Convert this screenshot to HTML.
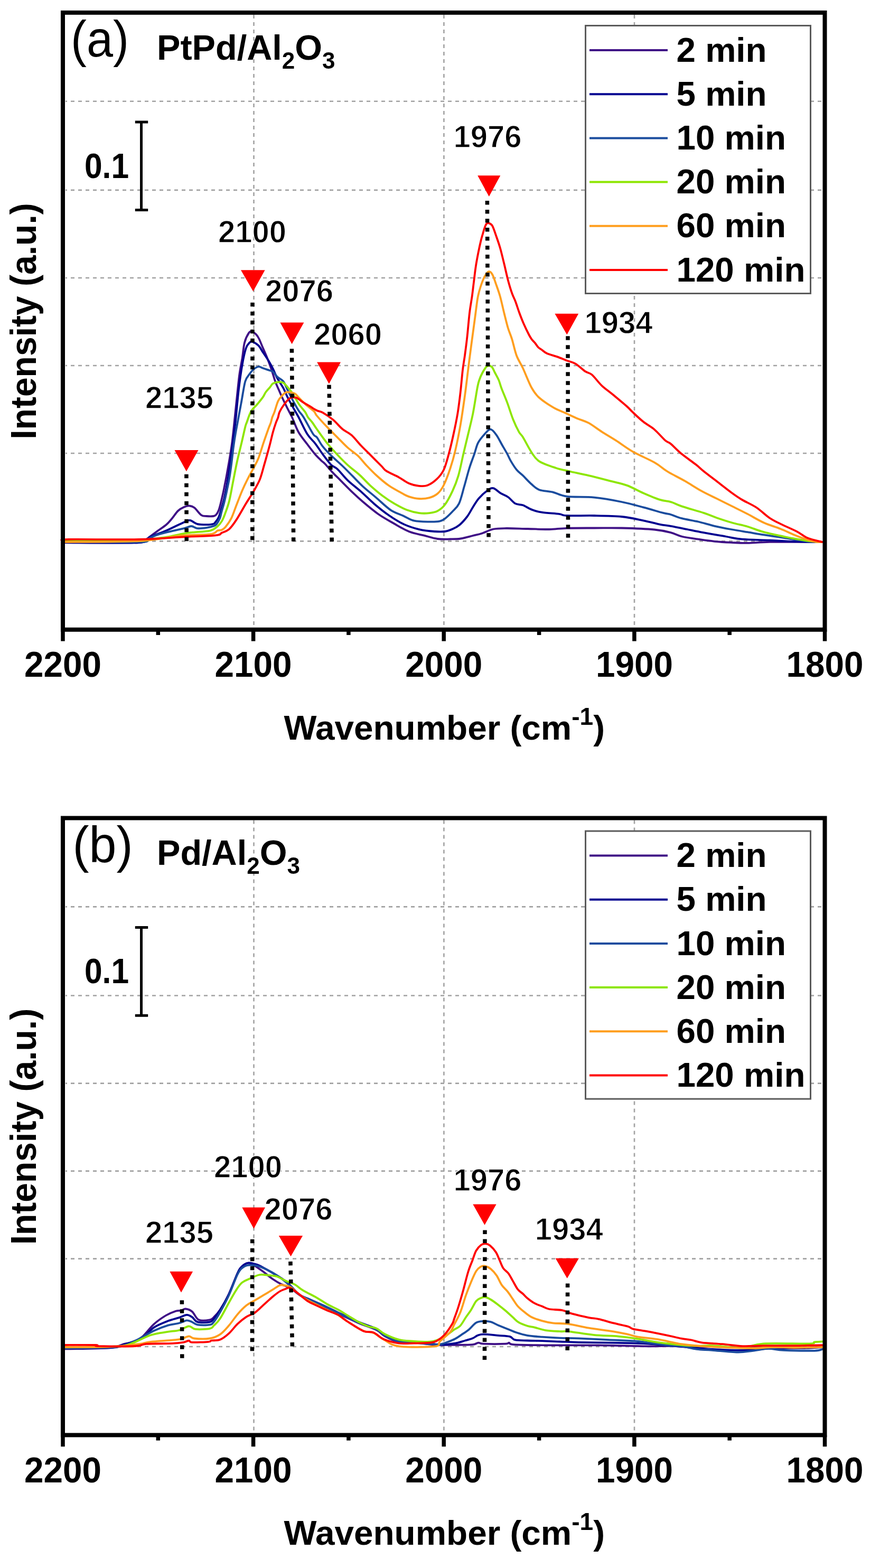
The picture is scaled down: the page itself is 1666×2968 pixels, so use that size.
<!DOCTYPE html><html><head><meta charset="utf-8"><title>Figure</title><style>
html,body{margin:0;padding:0;background:#fff;}
svg{display:block;}
text{font-family:'Liberation Sans', Arial, sans-serif;fill:#000;}
.grid{stroke:#a2a2a2;stroke-width:2.6;stroke-dasharray:7 7;}
.pk{font-size:60px;font-weight:bold;stroke:#fff;stroke-width:1.3px;}
.b66{font-size:66px;font-weight:bold;}
.leg{font-size:65.5px;font-weight:bold;}
.tick{font-size:68px;font-weight:bold;}
.ax{font-size:65.5px;font-weight:bold;}
.ay{font-size:68px;font-weight:bold;}
.pl{font-size:96px;}
.ttl{font-size:66.6px;font-weight:bold;}
</style></head><body>
<svg width="1666" height="2968" viewBox="0 0 1666 2968">
<rect width="1666" height="2968" fill="#fff"/>
<g transform="translate(0,0.0)">
<line x1="124" y1="191.8" x2="1557" y2="191.8" class="grid" stroke-dashoffset="-10"/>
<line x1="124" y1="359.9" x2="1557" y2="359.9" class="grid" stroke-dashoffset="-10"/>
<line x1="124" y1="526.0" x2="1557" y2="526.0" class="grid" stroke-dashoffset="-10"/>
<line x1="124" y1="692.0" x2="1557" y2="692.0" class="grid" stroke-dashoffset="-10"/>
<line x1="124" y1="858.0" x2="1557" y2="858.0" class="grid" stroke-dashoffset="-10"/>
<line x1="124" y1="1024.4" x2="1557" y2="1024.4" class="grid" stroke-dashoffset="-10"/>
<line x1="480.5" y1="28" x2="480.5" y2="1187" class="grid"/>
<line x1="840.4" y1="28" x2="840.4" y2="1187" class="grid"/>
<line x1="1201.0" y1="28" x2="1201.0" y2="1187" class="grid"/>
<path d="M119.0,1027.0C132.5,1027.1 176.0,1027.5 200.0,1027.5C224.0,1027.5 251.0,1027.6 263.0,1027.0C275.0,1026.4 269.0,1025.5 272.0,1024.0C275.0,1022.5 276.8,1021.0 281.0,1018.0C285.2,1015.0 291.3,1010.2 297.0,1006.0C302.7,1001.8 310.2,997.2 315.0,993.0C319.8,988.8 322.3,985.3 326.0,981.0C329.7,976.7 333.3,970.5 337.0,967.0C340.7,963.5 344.3,961.6 348.0,960.0C351.7,958.4 355.7,957.3 359.0,957.5C362.3,957.7 364.3,958.1 368.0,961.0C371.7,963.9 377.2,972.3 381.0,975.0C384.8,977.7 387.2,976.7 391.0,977.0C394.8,977.3 401.0,977.4 404.0,977.0C407.0,976.6 407.3,976.3 409.0,974.5C410.7,972.7 412.5,969.8 414.0,966.0C415.5,962.2 416.7,957.2 418.0,952.0C419.3,946.8 420.6,941.3 422.0,935.0C423.4,928.7 425.1,919.8 426.3,914.0C427.5,908.2 427.7,907.0 429.0,900.0C430.3,893.0 432.3,882.0 434.0,872.0C435.7,862.0 437.5,851.2 439.0,840.0C440.5,828.8 441.6,818.3 443.0,805.0C444.4,791.7 446.0,775.7 447.7,760.0C449.4,744.3 451.2,724.8 453.0,711.0C454.8,697.2 457.0,687.9 458.7,677.5C460.4,667.1 460.9,656.2 463.0,648.4C465.1,640.5 468.7,633.8 471.0,630.4C473.3,627.0 474.4,627.2 476.7,627.7C479.0,628.2 482.7,630.9 485.0,633.2C487.3,635.5 488.4,637.4 490.5,641.5C492.6,645.6 494.9,652.1 497.5,658.1C500.1,664.1 503.1,670.6 505.8,677.5C508.6,684.4 511.5,692.2 514.0,699.6C516.5,707.0 518.7,715.2 521.0,721.7C523.3,728.2 525.5,732.5 528.0,738.3C530.5,744.1 532.8,749.6 536.0,756.3C539.2,763.0 544.2,772.8 547.0,778.4C549.8,784.0 550.0,783.5 553.0,790.0C556.0,796.5 560.2,809.2 565.0,817.7C569.8,826.2 576.8,834.3 582.0,841.2C587.2,848.1 591.7,854.1 596.0,859.2C600.3,864.3 604.8,868.4 608.0,871.6C611.2,874.8 612.0,874.5 615.5,878.2C619.0,881.9 624.2,888.5 629.0,893.6C633.8,898.8 638.0,902.6 644.5,909.1C651.0,915.6 660.7,925.6 667.8,932.4C674.9,939.2 679.0,943.0 687.0,949.8C695.0,956.6 706.3,966.2 716.0,973.0C725.7,979.8 735.3,985.0 745.0,990.5C754.7,996.0 764.3,1002.1 774.0,1006.0C783.7,1009.9 793.9,1011.4 803.0,1013.7C812.1,1016.0 820.3,1018.9 828.5,1020.0C836.7,1021.1 844.8,1020.6 852.0,1020.5C859.2,1020.4 864.8,1020.6 872.0,1019.5C879.2,1018.4 888.3,1015.6 895.0,1014.0C901.7,1012.4 905.5,1011.9 912.0,1009.8C918.5,1007.7 926.2,1003.1 934.0,1001.5C941.8,999.9 948.2,1000.1 959.0,1000.0C969.8,999.9 985.5,1000.7 999.0,1001.0C1012.5,1001.3 1027.7,1002.2 1040.0,1002.0C1052.3,1001.8 1058.8,1000.2 1073.0,999.8C1087.2,999.4 1107.7,999.5 1125.0,999.5C1142.3,999.5 1158.0,999.0 1177.0,999.5C1196.0,1000.0 1223.5,1001.0 1239.0,1002.5C1254.5,1004.0 1261.4,1006.0 1270.0,1008.2C1278.6,1010.4 1282.0,1013.4 1290.7,1015.5C1299.4,1017.6 1311.6,1019.2 1322.0,1020.7C1332.4,1022.2 1342.7,1023.8 1353.0,1024.8C1363.3,1025.8 1373.7,1026.4 1384.0,1026.9C1394.3,1027.4 1402.8,1028.1 1415.0,1027.9C1427.2,1027.7 1438.0,1026.2 1457.0,1025.9C1476.0,1025.6 1512.5,1025.9 1529.0,1025.9C1545.5,1025.9 1551.5,1026.0 1556.0,1026.0" fill="none" stroke="#3F0F86" stroke-width="3.8" stroke-linejoin="round" stroke-linecap="round"/>
<path d="M119.0,1027.0C143.0,1027.0 235.6,1028.7 263.0,1027.0C290.4,1025.3 274.8,1020.5 283.5,1016.7C292.2,1012.9 304.2,1009.0 315.0,1004.3C325.8,999.6 341.1,991.6 348.5,988.4C355.9,985.2 355.5,984.3 359.6,984.9C363.8,985.5 368.1,990.4 373.4,991.8C378.7,993.2 386.3,993.2 391.4,993.2C396.5,993.2 401.0,992.7 403.8,991.8C406.6,990.9 406.3,990.1 408.0,988.0C409.7,985.9 412.1,983.3 414.0,979.0C415.9,974.7 417.7,967.7 419.4,962.0C421.1,956.3 422.6,951.8 424.2,945.0C425.8,938.2 427.6,928.5 429.0,921.0C430.4,913.5 431.3,907.7 432.5,900.0C433.7,892.3 434.8,884.2 436.0,875.0C437.2,865.8 438.4,857.5 440.0,845.0C441.6,832.5 443.6,817.8 445.6,800.0C447.6,782.2 449.6,756.6 451.8,738.3C454.0,719.9 456.4,703.0 458.7,689.9C461.0,676.8 463.3,666.4 465.6,659.5C467.9,652.6 470.5,650.5 472.6,648.4C474.7,646.3 475.3,646.1 478.1,647.0C480.9,647.9 486.0,650.7 489.2,653.9C492.4,657.1 494.3,661.5 497.5,666.4C500.7,671.2 505.3,677.7 508.5,683.0C511.7,688.3 514.0,692.7 516.8,698.2C519.6,703.7 521.9,710.2 525.1,716.2C528.3,722.2 533.0,728.2 536.2,734.2C539.4,740.2 541.5,746.1 544.5,752.1C547.5,758.1 550.8,763.9 554.2,770.1C557.7,776.3 560.6,780.9 565.2,789.5C569.8,798.1 576.5,813.4 581.8,821.8C587.1,830.2 592.0,833.3 597.0,839.8C602.0,846.3 606.6,854.0 611.6,860.7C616.6,867.4 622.6,875.6 627.1,880.1C631.6,884.6 633.5,883.0 638.7,887.8C643.9,892.6 650.7,902.0 658.1,909.1C665.5,916.2 674.9,923.0 683.3,930.4C691.7,937.8 699.7,946.3 708.4,953.7C717.1,961.1 726.2,968.5 735.6,975.0C745.0,981.5 754.9,987.9 764.6,992.4C774.3,996.9 783.9,999.8 793.6,1002.1C803.3,1004.4 814.6,1005.4 822.7,1006.0C830.8,1006.6 836.3,1006.8 842.1,1006.0C847.9,1005.2 852.8,1003.1 857.5,1001.0C862.2,998.9 865.9,997.0 870.4,993.2C874.9,989.4 880.1,983.5 884.3,978.0C888.4,972.5 891.6,965.8 895.3,960.0C899.0,954.2 901.8,948.7 906.4,943.4C911.0,938.1 918.4,931.4 923.0,928.2C927.6,925.0 929.9,923.2 934.0,924.1C938.1,925.0 943.3,930.9 947.9,933.7C952.5,936.5 957.1,937.5 961.7,940.7C966.3,943.9 970.8,950.5 975.5,953.1C980.2,955.7 984.8,954.4 990.0,956.3C995.2,958.2 1000.7,962.4 1006.6,964.6C1012.5,966.8 1016.6,968.3 1025.3,969.7C1034.0,971.1 1050.5,971.9 1058.5,972.9C1066.5,973.9 1061.9,975.5 1073.0,976.0C1084.1,976.5 1107.7,975.7 1125.0,976.0C1142.3,976.3 1161.5,976.5 1177.0,978.0C1192.5,979.5 1206.0,982.9 1218.0,985.3C1230.0,987.7 1240.3,990.9 1249.0,992.6C1257.7,994.4 1261.3,994.2 1270.0,995.8C1278.7,997.4 1290.7,999.9 1301.0,1002.0C1311.3,1004.1 1319.8,1006.0 1332.0,1008.2C1344.2,1010.5 1361.8,1013.4 1374.0,1015.5C1386.2,1017.6 1391.2,1019.5 1405.0,1020.7C1418.8,1021.9 1441.5,1022.0 1457.0,1022.7C1472.5,1023.4 1486.0,1024.3 1498.0,1024.8C1510.0,1025.3 1519.3,1025.7 1529.0,1025.9C1538.7,1026.1 1551.5,1026.0 1556.0,1026.0" fill="none" stroke="#000090" stroke-width="3.8" stroke-linejoin="round" stroke-linecap="round"/>
<path d="M119.0,1026.0C143.0,1026.0 236.2,1027.0 263.0,1026.0C289.8,1025.0 273.6,1022.5 280.0,1020.0C286.4,1017.5 290.1,1014.5 301.5,1011.2C312.9,1007.9 338.4,1002.6 348.5,1000.1C358.6,997.6 358.2,996.0 362.4,996.0C366.5,996.0 368.6,999.6 373.4,1000.1C378.2,1000.6 386.1,999.6 391.4,998.8C396.7,998.0 402.1,996.6 405.2,995.5C408.3,994.4 408.1,994.4 410.0,992.0C411.9,989.6 414.7,984.8 416.3,981.0C417.9,977.2 418.1,973.8 419.4,969.0C420.7,964.2 422.6,958.3 424.2,952.0C425.8,945.7 427.4,938.5 429.0,931.0C430.6,923.5 432.5,915.0 433.9,907.0C435.3,899.0 436.1,893.3 437.5,883.0C438.9,872.7 440.7,855.8 442.1,845.3C443.5,834.8 444.7,827.5 446.0,820.0C447.3,812.5 447.8,810.1 449.7,800.0C451.6,789.9 454.9,772.1 457.3,759.1C459.7,746.1 461.8,730.2 464.3,721.7C466.9,713.2 470.1,711.6 472.6,707.9C475.1,704.2 476.7,701.9 479.5,699.6C482.3,697.3 486.2,694.5 489.2,694.0C492.2,693.5 494.1,695.6 497.5,696.8C500.9,698.0 506.7,699.9 509.9,701.0C513.1,702.1 514.3,701.6 516.8,703.7C519.3,705.8 521.9,710.4 525.1,713.4C528.3,716.4 533.0,717.6 536.2,721.7C539.4,725.9 541.7,732.8 544.5,738.3C547.3,743.8 549.3,748.4 552.8,754.9C556.2,761.4 561.5,771.1 565.2,777.0C568.9,782.9 570.3,782.5 574.9,790.0C579.5,797.5 588.7,815.5 592.9,821.8C597.1,828.1 597.2,824.2 600.0,827.8C602.8,831.4 605.5,837.8 609.7,843.3C613.9,848.8 618.8,854.2 625.2,860.7C631.7,867.2 641.3,875.2 648.4,882.0C655.5,888.8 661.3,894.9 667.8,901.4C674.2,907.9 679.7,914.0 687.1,920.8C694.5,927.6 703.6,934.7 712.3,942.1C721.0,949.5 730.7,959.5 739.4,965.3C748.1,971.1 757.2,973.5 764.6,976.9C772.0,980.3 775.9,983.8 784.0,985.6C792.1,987.4 804.9,987.4 813.0,987.6C821.1,987.8 827.6,987.5 832.4,986.6C837.2,985.7 838.0,985.0 842.0,982.0C846.0,979.0 852.1,973.1 856.6,968.3C861.1,963.5 865.3,960.9 869.0,953.1C872.7,945.3 875.5,932.4 878.7,921.3C881.9,910.2 885.2,897.1 888.4,886.7C891.6,876.3 895.3,867.2 898.1,859.1C900.9,851.0 901.8,844.5 905.0,838.3C908.2,832.1 913.6,826.0 917.5,821.7C921.4,817.4 924.8,812.5 928.5,812.7C932.2,812.9 935.9,818.1 939.6,823.1C943.3,828.1 947.2,836.5 950.7,842.5C954.2,848.5 957.5,854.0 960.3,859.1C963.0,864.2 964.2,867.8 967.2,872.9C970.2,878.0 974.5,885.0 978.3,889.5C982.1,894.0 985.3,895.7 990.0,900.2C994.7,904.8 1001.4,912.3 1006.6,916.8C1011.8,921.3 1014.5,924.8 1021.1,927.2C1027.7,929.6 1037.3,929.3 1046.0,931.4C1054.7,933.5 1059.8,938.0 1073.0,939.7C1086.2,941.4 1107.6,940.0 1124.9,941.7C1142.2,943.4 1161.2,946.9 1176.7,950.0C1192.2,953.1 1205.1,956.9 1218.2,960.4C1231.3,963.9 1247.0,968.6 1255.6,970.9C1264.2,973.2 1264.2,972.3 1270.0,974.0C1275.8,975.7 1282.0,979.0 1290.7,981.2C1299.4,983.5 1311.5,985.1 1321.9,987.5C1332.3,989.9 1342.6,993.4 1353.0,995.8C1363.4,998.2 1373.7,1000.1 1384.1,1002.0C1394.5,1003.9 1404.8,1005.5 1415.2,1007.2C1425.6,1008.9 1434.2,1010.5 1446.3,1012.4C1458.4,1014.3 1474.0,1016.5 1487.8,1018.6C1501.6,1020.7 1517.9,1023.6 1529.3,1024.8C1540.7,1026.0 1551.5,1025.8 1556.0,1026.0" fill="none" stroke="#1A4C9E" stroke-width="3.8" stroke-linejoin="round" stroke-linecap="round"/>
<path d="M119.0,1024.0C143.0,1024.0 234.5,1024.7 263.0,1024.0C291.5,1023.3 281.3,1021.2 290.0,1020.0C298.7,1018.8 305.6,1018.4 315.3,1016.7C325.1,1015.0 340.2,1011.3 348.5,1009.8C356.8,1008.3 356.8,1008.6 365.1,1007.7C373.4,1006.8 390.5,1006.2 398.3,1004.3C406.1,1002.3 408.5,999.0 412.1,996.0C415.7,993.0 417.8,990.1 420.0,986.4C422.2,982.7 423.2,980.2 425.5,974.0C427.8,967.8 431.3,958.9 433.8,949.0C436.3,939.1 438.2,927.2 440.7,914.5C443.2,901.8 446.2,885.7 449.0,873.0C451.8,860.3 454.8,849.2 457.3,838.4C459.9,827.6 462.7,814.4 464.3,808.0C465.9,801.6 465.2,804.9 467.0,800.0C468.8,795.1 472.1,784.1 475.3,778.4C478.5,772.7 482.7,770.4 486.4,766.0C490.1,761.6 494.7,756.0 497.5,752.1C500.3,748.2 500.7,745.7 503.0,742.5C505.3,739.3 509.0,735.6 511.3,732.8C513.6,730.0 514.0,727.5 516.8,725.9C519.6,724.3 524.7,723.3 527.9,723.1C531.1,722.9 533.4,722.9 536.2,724.5C539.0,726.1 542.0,730.0 544.5,732.8C547.0,735.6 549.1,737.9 551.4,741.1C553.7,744.3 555.8,748.0 558.3,752.1C560.8,756.2 563.4,761.4 566.6,766.0C569.8,770.6 574.9,775.8 577.7,779.8C580.5,783.8 580.9,786.6 583.2,790.0C585.5,793.4 588.7,796.2 591.5,800.0C594.3,803.8 595.4,806.0 600.0,812.5C604.6,819.0 612.9,831.0 619.4,839.0C625.9,847.0 632.2,853.9 638.7,860.7C645.2,867.6 651.0,873.6 658.1,880.1C665.2,886.6 674.2,893.0 681.3,899.5C688.4,906.0 693.6,912.3 700.7,918.8C707.8,925.2 716.1,932.4 723.9,938.2C731.6,944.0 739.5,949.2 747.2,953.7C755.0,958.2 762.7,962.4 770.4,965.3C778.1,968.2 786.5,970.1 793.6,971.1C800.7,972.1 807.2,971.8 813.0,971.1C818.8,970.5 823.7,969.8 828.5,967.2C833.3,964.6 837.3,962.0 842.0,955.7C846.7,949.4 852.3,938.8 856.6,929.6C860.9,920.4 864.2,912.4 867.7,900.6C871.2,888.9 874.3,871.8 877.3,859.1C880.3,846.4 882.6,837.2 885.6,824.5C888.6,811.8 892.3,798.0 895.3,783.0C898.3,768.0 901.6,745.1 903.6,734.6C905.6,724.1 905.6,724.8 907.2,719.9C908.8,715.0 910.9,710.0 913.4,705.5C915.9,701.0 919.2,695.0 922.1,693.1C925.0,691.2 928.3,692.2 930.8,694.3C933.3,696.4 934.7,701.2 937.0,705.5C939.3,709.8 942.4,715.0 944.4,719.9C946.4,724.8 946.6,727.5 949.3,734.6C951.9,741.7 956.6,752.3 960.3,762.2C964.0,772.1 967.7,784.8 971.4,794.0C975.1,803.2 979.4,812.0 982.5,817.6C985.6,823.2 986.0,821.1 990.0,827.6C994.0,834.1 1001.4,849.1 1006.6,856.7C1011.8,864.3 1013.5,868.5 1021.1,873.3C1028.7,878.1 1042.9,882.6 1052.2,885.7C1061.5,888.8 1066.7,889.6 1077.1,892.0C1087.5,894.4 1101.3,897.1 1114.5,900.2C1127.7,903.3 1143.9,907.5 1156.0,910.6C1168.1,913.7 1176.7,915.1 1187.1,918.9C1197.5,922.7 1207.8,928.9 1218.2,933.4C1228.6,937.9 1240.7,943.1 1249.3,945.9C1257.9,948.7 1263.1,948.0 1270.0,950.1C1276.9,952.2 1280.3,954.9 1290.7,958.4C1301.1,961.9 1321.1,967.3 1332.2,970.9C1343.3,974.5 1348.1,977.1 1357.1,980.2C1366.1,983.3 1376.5,986.7 1386.2,989.5C1395.9,992.3 1405.2,993.8 1415.2,996.8C1425.2,999.8 1434.2,1003.9 1446.3,1007.2C1458.4,1010.5 1474.0,1013.7 1487.8,1016.5C1501.6,1019.3 1517.9,1022.2 1529.3,1023.8C1540.7,1025.4 1551.5,1025.6 1556.0,1026.0" fill="none" stroke="#8DE600" stroke-width="3.8" stroke-linejoin="round" stroke-linecap="round"/>
<path d="M119.0,1026.0C143.0,1025.7 225.7,1026.0 263.0,1024.0C300.3,1022.0 320.4,1016.1 343.0,1014.0C365.6,1011.9 386.8,1012.8 398.3,1011.2C409.8,1009.6 408.5,1005.7 412.1,1004.3C415.7,1002.9 417.5,1004.1 420.0,1003.0C422.5,1001.9 423.9,1001.2 426.9,997.5C429.9,993.8 434.5,987.8 438.0,980.9C441.5,974.0 444.2,964.8 447.7,956.0C451.1,947.2 455.2,936.4 458.7,928.3C462.1,920.2 464.9,914.5 468.4,907.6C471.9,900.7 476.0,893.5 479.5,886.8C483.0,880.1 486.0,875.6 489.2,867.5C492.4,859.4 495.6,847.9 498.8,838.4C502.0,828.9 506.2,817.1 508.5,810.7C510.8,804.3 511.6,803.5 512.7,800.0C513.9,796.5 514.2,793.4 515.4,790.0C516.5,786.6 517.8,784.9 519.6,779.8C521.5,774.6 524.0,764.4 526.5,759.1C529.0,753.8 532.3,750.8 534.8,748.0C537.3,745.2 539.4,743.4 541.7,742.5C544.0,741.6 545.8,742.0 548.6,742.5C551.4,743.0 555.5,743.6 558.3,745.2C561.1,746.8 561.7,748.6 565.2,752.1C568.7,755.6 574.2,761.6 579.1,766.0C584.0,770.4 590.8,774.9 594.3,778.4C597.8,781.9 595.8,782.1 600.0,787.1C604.2,792.1 612.9,801.6 619.4,808.4C625.9,815.2 632.2,821.3 638.7,827.8C645.2,834.3 651.6,841.4 658.1,847.2C664.6,853.0 671.7,857.2 677.5,862.7C683.3,868.2 687.2,874.0 693.0,880.1C698.8,886.2 705.2,893.0 712.3,899.5C719.4,906.0 727.9,913.3 735.6,918.8C743.4,924.3 752.3,928.8 758.8,932.4C765.2,936.0 768.5,938.2 774.3,940.1C780.1,942.0 787.1,943.7 793.6,944.0C800.1,944.3 807.2,943.7 813.0,942.1C818.8,940.5 824.0,938.2 828.5,934.3C833.0,930.4 836.0,926.4 840.0,918.5C844.0,910.6 848.7,897.8 852.4,886.7C856.1,875.6 858.9,865.9 862.1,852.1C865.3,838.3 868.8,821.0 871.8,803.7C874.8,786.4 877.7,765.7 880.1,748.4C882.5,731.1 884.6,712.4 886.2,700.0C887.8,687.6 888.2,683.8 889.5,674.0C890.8,664.2 892.3,652.3 893.8,641.5C895.2,630.7 896.8,619.9 898.2,609.0C899.7,598.1 901.4,584.5 902.5,576.3C903.6,568.1 903.9,565.5 905.1,560.0C906.3,554.5 907.7,549.0 909.7,543.0C911.7,537.0 914.6,529.0 917.1,524.2C919.6,519.4 922.1,515.0 924.6,514.2C927.1,513.4 929.5,515.1 932.0,519.2C934.5,523.4 937.0,532.1 939.5,539.1C942.0,546.1 944.4,552.5 946.9,561.4C949.4,570.3 951.9,582.6 954.4,592.5C956.9,602.4 959.3,612.7 961.8,621.0C964.3,629.3 966.6,633.4 969.3,642.1C972.0,650.8 974.5,664.1 978.0,673.2C981.5,682.4 985.2,686.8 990.0,697.0C994.8,707.2 1001.4,725.0 1006.6,734.3C1011.8,743.6 1014.2,746.8 1021.1,753.0C1028.0,759.2 1039.8,766.8 1048.1,771.6C1056.4,776.4 1063.3,778.5 1070.9,782.0C1078.5,785.5 1086.4,789.3 1093.7,792.4C1101.0,795.5 1106.9,796.6 1114.5,800.7C1122.1,804.9 1130.8,811.8 1139.4,817.3C1148.0,822.8 1156.6,827.7 1166.3,833.9C1176.0,840.1 1185.4,847.7 1197.5,854.6C1209.6,861.5 1228.6,869.5 1239.0,875.4C1249.4,881.3 1254.5,886.4 1259.7,889.9C1264.9,893.4 1263.8,892.7 1270.0,896.2C1276.2,899.7 1287.3,905.2 1297.0,910.7C1306.7,916.2 1318.1,923.9 1328.1,929.4C1338.1,934.9 1347.4,939.1 1357.1,943.9C1366.8,948.7 1376.5,953.6 1386.2,958.4C1395.9,963.2 1405.2,967.7 1415.2,972.9C1425.2,978.1 1435.9,984.8 1446.3,989.5C1456.7,994.2 1467.1,996.9 1477.5,1001.0C1487.9,1005.1 1498.2,1010.4 1508.6,1014.4C1519.0,1018.4 1531.8,1022.9 1539.7,1024.8C1547.6,1026.7 1553.3,1025.8 1556.0,1026.0" fill="none" stroke="#FF9E1E" stroke-width="3.8" stroke-linejoin="round" stroke-linecap="round"/>
<path d="M119.0,1023.5C120.8,1023.1 106.0,1021.4 130.0,1021.0C154.0,1020.6 227.5,1021.7 263.0,1021.0C298.5,1020.3 318.8,1018.0 343.0,1016.7C367.2,1015.4 395.2,1014.7 408.0,1013.3C420.8,1011.9 415.7,1010.5 420.0,1008.5C424.3,1006.5 429.2,1005.8 433.8,1001.6C438.4,997.5 442.4,991.7 447.7,983.6C453.0,975.5 460.3,962.0 465.6,953.2C470.9,944.5 475.1,938.7 479.5,931.1C483.9,923.5 488.4,916.1 491.9,907.6C495.3,899.1 497.2,890.3 500.2,879.9C503.2,869.5 507.1,855.7 509.9,845.3C512.7,834.9 514.7,825.2 516.8,817.7C518.9,810.2 520.8,804.6 522.4,800.0C524.0,795.4 525.4,793.4 526.5,790.0C527.6,786.6 527.4,783.8 529.3,779.8C531.1,775.8 534.6,770.1 537.6,766.0C540.6,761.9 544.7,757.2 547.2,754.9C549.7,752.6 550.2,752.3 552.8,752.1C555.3,751.9 559.3,752.1 562.5,753.5C565.7,754.9 568.2,757.9 572.1,760.4C576.0,762.9 581.4,765.9 586.0,768.7C590.6,771.5 595.5,774.9 599.8,777.0C604.1,779.1 606.4,778.3 611.6,781.3C616.8,784.3 624.9,789.7 631.0,794.9C637.1,800.1 642.6,807.5 648.4,812.3C654.2,817.1 660.0,818.7 665.8,823.9C671.6,829.1 677.5,837.2 683.3,843.3C689.1,849.4 694.2,854.2 700.7,860.7C707.2,867.2 716.8,876.8 722.0,882.0C727.2,887.2 726.2,888.2 731.7,891.7C737.2,895.2 747.8,899.4 754.9,903.3C762.0,907.2 767.8,912.2 774.3,915.0C780.8,917.8 787.8,919.2 793.6,919.8C799.4,920.4 803.6,920.9 809.1,918.8C814.6,916.7 821.5,912.1 826.6,907.2C831.8,902.3 836.1,897.5 840.0,889.5C843.9,881.5 846.7,869.9 849.7,859.1C852.7,848.3 855.2,837.2 858.0,824.5C860.8,811.8 864.0,796.8 866.3,783.0C868.6,769.2 870.2,755.3 871.8,741.5C873.4,727.7 874.6,711.7 876.0,700.0C877.4,688.3 878.8,682.0 880.2,671.4C881.6,660.8 883.2,649.2 884.6,636.1C886.0,623.0 887.4,605.3 888.9,592.6C890.4,579.9 892.4,569.8 893.8,560.0C895.1,550.2 895.8,543.3 897.0,534.0C898.2,524.7 899.3,513.7 900.8,504.2C902.2,494.7 904.1,485.2 905.7,477.1C907.3,469.0 909.1,461.2 910.5,455.3C911.9,449.4 913.1,445.8 914.3,441.7C915.5,437.6 916.5,433.9 917.6,430.9C918.7,427.9 919.7,425.2 920.9,423.8C922.1,422.4 922.8,421.6 924.6,422.2C926.5,422.8 929.5,423.1 932.0,427.3C934.5,431.5 937.0,440.2 939.5,447.2C942.0,454.2 944.4,460.8 946.9,469.5C949.4,478.2 951.9,489.2 954.4,499.3C956.9,509.4 959.3,521.1 961.8,530.4C964.3,539.7 967.0,548.6 969.3,555.2C971.6,561.8 973.3,564.0 975.6,570.0C977.9,576.0 980.4,584.4 983.0,591.5C985.6,598.6 988.2,605.4 991.3,612.5C994.4,619.6 999.0,629.0 1001.6,634.0C1004.2,639.0 1004.9,639.8 1006.7,642.3C1008.6,644.8 1010.6,646.5 1012.7,649.0C1014.8,651.5 1017.0,655.3 1019.1,657.5C1021.2,659.7 1022.8,660.1 1025.5,662.0C1028.2,663.9 1030.8,666.8 1035.6,669.0C1040.4,671.2 1048.1,672.9 1054.3,675.1C1060.5,677.3 1067.1,680.1 1073.0,682.4C1078.9,684.6 1083.7,685.1 1089.6,688.6C1095.5,692.1 1103.1,699.7 1108.3,703.2C1113.5,706.7 1115.5,704.9 1120.7,709.4C1125.9,713.9 1132.8,723.9 1139.4,730.1C1146.0,736.3 1152.1,740.1 1160.1,746.7C1168.0,753.3 1180.9,764.0 1187.1,769.5C1193.3,775.0 1192.3,775.0 1197.5,779.9C1202.7,784.8 1211.3,793.1 1218.2,798.6C1225.1,804.1 1232.1,807.2 1239.0,813.1C1245.9,819.0 1254.5,829.4 1259.7,833.9C1264.9,838.4 1265.2,836.2 1270.0,840.2C1274.8,844.2 1280.8,851.2 1288.7,857.8C1296.7,864.4 1310.5,873.9 1317.7,879.6C1325.0,885.3 1325.3,886.5 1332.2,892.0C1339.1,897.5 1350.2,905.9 1359.2,912.8C1368.2,919.7 1378.6,928.0 1386.2,933.5C1393.8,939.0 1397.3,941.5 1404.9,946.0C1412.5,950.5 1423.2,954.8 1431.8,960.5C1440.4,966.2 1449.1,975.0 1456.7,980.2C1464.3,985.4 1468.8,987.3 1477.5,991.6C1486.2,995.9 1500.0,1001.6 1508.6,1006.1C1517.2,1010.6 1521.3,1015.3 1529.3,1018.6C1537.2,1021.9 1551.8,1024.7 1556.3,1025.9" fill="none" stroke="#FF0000" stroke-width="3.8" stroke-linejoin="round" stroke-linecap="round"/>
<line x1="352.9" y1="897.8" x2="353.2" y2="1025.3" stroke="#000" stroke-width="7.5" stroke-dasharray="7.5 9.5"/>
<polygon points="330.5,852.1 375.5,852.1 352.9,892.3" fill="#FF0000"/>
<line x1="478.0" y1="572.8" x2="477.8" y2="1027.5" stroke="#000" stroke-width="7.5" stroke-dasharray="7.5 9.5"/>
<polygon points="456.0,511.2 501.6,511.2 479.3,551.5" fill="#FF0000"/>
<line x1="552.4" y1="660.3" x2="555.7" y2="1029.7" stroke="#000" stroke-width="7.5" stroke-dasharray="7.5 9.5"/>
<polygon points="530.5,610.4 575.4,610.4 552.6,651.2" fill="#FF0000"/>
<line x1="623.0" y1="728.5" x2="628.3" y2="1029.7" stroke="#000" stroke-width="7.5" stroke-dasharray="7.5 9.5"/>
<polygon points="600.1,685.6 645.0,685.6 622.9,726.4" fill="#FF0000"/>
<line x1="922.4" y1="379.9" x2="925.1" y2="1022.2" stroke="#000" stroke-width="7.5" stroke-dasharray="7.5 9.5"/>
<polygon points="904.2,332.3 947.3,332.3 925.8,372.1" fill="#FF0000"/>
<line x1="1075.0" y1="636.3" x2="1075.5" y2="1021.4" stroke="#000" stroke-width="7.5" stroke-dasharray="7.5 9.5"/>
<polygon points="1050.4,593.7 1095.2,593.7 1073.3,633.5" fill="#FF0000"/>
<text x="275.0" y="773.3" class="pk" textLength="129.0" lengthAdjust="spacingAndGlyphs">2135</text>
<text x="413.0" y="458.8" class="pk" textLength="129.0" lengthAdjust="spacingAndGlyphs">2100</text>
<text x="502.0" y="571.3" class="pk" textLength="129.0" lengthAdjust="spacingAndGlyphs">2076</text>
<text x="594.0" y="652.8" class="pk" textLength="129.0" lengthAdjust="spacingAndGlyphs">2060</text>
<text x="858.6" y="279.2" class="pk" textLength="129.0" lengthAdjust="spacingAndGlyphs">1976</text>
<text x="1106.5" y="631.3" class="pk" textLength="129.0" lengthAdjust="spacingAndGlyphs">1934</text>
<path d="M267.5,231 V397.6 M255.8,231 H280.2 M255.8,397.6 H280.2" stroke="#000" stroke-width="5" fill="none"/>
<text x="160" y="336.6" class="b66" textLength="84" lengthAdjust="spacingAndGlyphs">0.1</text>
<rect x="1108.5" y="48.5" width="426" height="507" fill="#fff" stroke="#5a5a5a" stroke-width="3"/>
<line x1="1116" y1="95.0" x2="1264" y2="95.0" stroke="#3F0F86" stroke-width="4"/>
<text x="1280.5" y="116.7" class="leg">2 min</text>
<line x1="1116" y1="178.2" x2="1264" y2="178.2" stroke="#000090" stroke-width="4"/>
<text x="1280.5" y="199.9" class="leg">5 min</text>
<line x1="1116" y1="261.4" x2="1264" y2="261.4" stroke="#1A4C9E" stroke-width="4"/>
<text x="1280.5" y="283.1" class="leg">10 min</text>
<line x1="1116" y1="344.5" x2="1264" y2="344.5" stroke="#8DE600" stroke-width="4"/>
<text x="1280.5" y="366.2" class="leg">20 min</text>
<line x1="1116" y1="427.7" x2="1264" y2="427.7" stroke="#FF9E1E" stroke-width="4"/>
<text x="1280.5" y="449.4" class="leg">60 min</text>
<line x1="1116" y1="510.9" x2="1264" y2="510.9" stroke="#FF0000" stroke-width="4"/>
<text x="1280.5" y="532.6" class="leg">120 min</text>
<rect x="119.0" y="23.9" width="1442.5" height="1167.9" fill="none" stroke="#000" stroke-width="8"/>
<line x1="119.0" y1="1191.8" x2="119.0" y2="1213.6" stroke="#000" stroke-width="7.5"/>
<text x="119.0" y="1281" class="tick" text-anchor="middle" textLength="146.0" lengthAdjust="spacingAndGlyphs">2200</text>
<line x1="479.6" y1="1191.8" x2="479.6" y2="1213.6" stroke="#000" stroke-width="7.5"/>
<text x="479.6" y="1281" class="tick" text-anchor="middle" textLength="146.0" lengthAdjust="spacingAndGlyphs">2100</text>
<line x1="840.2" y1="1191.8" x2="840.2" y2="1213.6" stroke="#000" stroke-width="7.5"/>
<text x="840.2" y="1281" class="tick" text-anchor="middle" textLength="146.0" lengthAdjust="spacingAndGlyphs">2000</text>
<line x1="1200.9" y1="1191.8" x2="1200.9" y2="1213.6" stroke="#000" stroke-width="7.5"/>
<text x="1200.9" y="1281" class="tick" text-anchor="middle" textLength="146.0" lengthAdjust="spacingAndGlyphs">1900</text>
<line x1="1561.5" y1="1191.8" x2="1561.5" y2="1213.6" stroke="#000" stroke-width="7.5"/>
<text x="1561.5" y="1281" class="tick" text-anchor="middle" textLength="146.0" lengthAdjust="spacingAndGlyphs">1800</text>
<line x1="299.3" y1="1191.8" x2="299.3" y2="1202" stroke="#000" stroke-width="7.5"/>
<line x1="659.9" y1="1191.8" x2="659.9" y2="1202" stroke="#000" stroke-width="7.5"/>
<line x1="1020.6" y1="1191.8" x2="1020.6" y2="1202" stroke="#000" stroke-width="7.5"/>
<line x1="1381.2" y1="1191.8" x2="1381.2" y2="1202" stroke="#000" stroke-width="7.5"/>
<text x="537.5" y="1399.7" class="ax" textLength="607.5" lengthAdjust="spacingAndGlyphs">Wavenumber (cm<tspan dy="-28" font-size="46">-1</tspan><tspan dy="28">)</tspan></text>
<text transform="translate(67.8,608) rotate(-90)" class="ay" text-anchor="middle" textLength="447.5" lengthAdjust="spacingAndGlyphs">Intensity (a.u.)</text>
<text x="134.0" y="107" class="pl" textLength="110.0" lengthAdjust="spacingAndGlyphs">(a)</text>
<text y="112.5" class="ttl"><tspan x="297">PtPd/Al</tspan><tspan font-size="44" dy="17">2</tspan><tspan dy="-17">O</tspan><tspan font-size="44" dy="17">3</tspan></text>
</g>
<g transform="translate(0,1524.6)">
<line x1="124" y1="191.8" x2="1557" y2="191.8" class="grid" stroke-dashoffset="-10"/>
<line x1="124" y1="359.9" x2="1557" y2="359.9" class="grid" stroke-dashoffset="-10"/>
<line x1="124" y1="526.0" x2="1557" y2="526.0" class="grid" stroke-dashoffset="-10"/>
<line x1="124" y1="692.0" x2="1557" y2="692.0" class="grid" stroke-dashoffset="-10"/>
<line x1="124" y1="858.0" x2="1557" y2="858.0" class="grid" stroke-dashoffset="-10"/>
<line x1="124" y1="1024.4" x2="1557" y2="1024.4" class="grid" stroke-dashoffset="-10"/>
<line x1="480.5" y1="28" x2="480.5" y2="1187" class="grid"/>
<line x1="840.4" y1="28" x2="840.4" y2="1187" class="grid"/>
<line x1="1201.0" y1="28" x2="1201.0" y2="1187" class="grid"/>
<path d="M119.0,1028.6C123.5,1028.6 130.8,1028.9 146.0,1028.6C161.2,1028.3 195.4,1028.1 210.3,1026.6C225.2,1025.0 227.9,1021.2 235.2,1019.3C242.5,1017.4 248.0,1017.6 253.9,1015.2C259.8,1012.8 264.3,1010.3 270.5,1004.8C276.7,999.3 283.9,988.6 291.2,982.0C298.4,975.4 307.1,969.6 314.0,965.4C320.9,961.3 327.9,958.7 332.7,957.1C337.5,955.5 339.9,956.7 343.0,956.0C346.1,955.3 347.9,952.6 351.4,952.9C354.9,953.3 359.6,954.6 363.8,958.1C368.0,961.6 370.8,971.1 376.3,973.7C381.8,976.3 392.2,974.6 397.0,973.7C401.8,972.8 401.7,971.6 405.0,968.4C408.3,965.3 411.9,962.1 416.6,954.8C421.3,947.6 427.7,936.5 433.2,924.9C438.7,913.3 445.7,893.7 449.8,885.1C453.9,876.5 455.2,876.5 458.0,873.4C460.8,870.4 463.6,867.9 466.4,866.8C469.2,865.7 471.9,866.0 474.7,866.8C477.5,867.6 478.9,869.0 483.0,871.8C487.1,874.6 494.1,879.3 499.6,883.4C505.1,887.5 510.7,892.6 516.2,896.4C521.7,900.2 527.3,903.6 532.8,906.4C538.3,909.2 543.9,910.1 549.4,913.3C554.9,916.6 560.5,922.0 566.0,925.9C571.5,929.8 577.1,933.4 582.6,936.5C588.1,939.6 593.0,942.3 599.2,944.8C605.4,947.3 614.5,949.2 620.0,951.4C625.5,953.6 622.7,953.4 632.4,958.1C642.1,962.7 664.7,973.5 678.1,979.3C691.5,985.1 704.6,988.7 713.0,992.9C721.4,997.1 721.3,1000.6 728.4,1004.5C735.5,1008.4 746.2,1014.0 755.6,1016.1C765.0,1018.2 774.9,1016.4 784.6,1017.1C794.3,1017.7 806.2,1019.4 813.6,1020.0C821.0,1020.6 821.4,1020.7 829.1,1020.9C836.8,1021.1 849.1,1021.3 860.0,1021.2C870.9,1021.1 887.0,1021.2 894.6,1020.5C902.2,1019.8 902.2,1017.2 905.6,1017.0C909.0,1016.8 906.8,1018.7 915.3,1019.1C923.8,1019.4 948.7,1019.4 956.8,1019.1C964.9,1018.7 960.9,1016.8 963.7,1017.0C966.5,1017.2 960.7,1019.7 973.4,1020.5C986.1,1021.3 1013.3,1021.6 1040.0,1021.8C1066.7,1022.0 1102.3,1021.5 1133.4,1021.8C1164.5,1022.1 1200.6,1023.4 1226.7,1023.7C1252.8,1024.0 1244.0,1022.9 1290.0,1023.5C1336.0,1024.1 1458.5,1027.4 1503.0,1027.4C1547.5,1027.4 1548.0,1024.2 1557.0,1023.5" fill="none" stroke="#3F0F86" stroke-width="3.8" stroke-linejoin="round" stroke-linecap="round"/>
<path d="M119.0,1027.4C134.2,1027.2 190.6,1027.6 210.0,1026.4C229.4,1025.2 225.1,1023.7 235.2,1020.4C245.3,1017.2 261.2,1012.3 270.5,1006.9C279.8,1001.5 283.2,993.4 291.2,988.2C299.1,983.0 310.2,978.8 318.2,975.7C326.2,972.6 333.1,971.4 339.0,969.5C344.9,967.6 349.3,964.5 353.4,964.3C357.5,964.1 360.3,966.2 363.8,968.5C367.3,970.8 368.7,976.3 374.2,977.8C379.7,979.4 391.9,978.9 397.0,977.8C402.1,976.7 401.7,975.1 405.0,971.4C408.3,967.7 411.9,963.1 416.6,955.4C421.3,947.7 427.7,937.1 433.2,925.4C438.7,913.7 445.7,894.2 449.8,885.4C453.9,876.6 454.7,875.6 458.0,872.4C461.3,869.2 466.0,866.8 469.7,866.0C473.4,865.2 476.1,866.4 480.0,867.4C483.9,868.4 487.0,868.9 493.0,871.8C499.0,874.8 509.6,881.2 516.2,885.1C522.8,889.0 527.8,891.7 532.8,895.0C537.8,898.3 540.6,899.9 546.1,905.0C551.6,910.1 559.9,920.7 566.0,925.4C572.1,930.1 574.3,929.6 582.6,933.4C590.9,937.2 606.2,943.7 615.8,948.1C625.4,952.5 629.6,954.9 640.0,959.8C650.4,964.7 665.9,972.2 678.1,977.4C690.3,982.6 704.6,986.7 713.0,990.9C721.4,995.1 721.3,998.7 728.4,1002.4C735.5,1006.2 746.2,1011.1 755.6,1013.4C765.0,1015.7 774.9,1015.6 784.6,1016.4C794.3,1017.2 805.5,1017.7 813.6,1018.4C821.7,1019.2 825.3,1020.9 833.0,1020.9C840.7,1020.9 852.0,1019.7 860.0,1018.4C868.0,1017.1 874.9,1014.5 880.7,1012.9C886.5,1011.3 890.7,1010.3 894.6,1008.7C898.5,1007.1 900.8,1004.5 904.3,1003.2C907.8,1001.9 908.8,1001.1 915.3,1001.1C921.8,1001.1 934.7,1002.5 943.0,1003.2C951.3,1003.9 959.8,1003.9 965.1,1005.3C970.4,1006.7 969.3,1010.2 974.8,1011.5C980.3,1012.8 989.8,1012.6 998.3,1012.9C1006.8,1013.3 1015.7,1013.3 1026.0,1013.6C1036.3,1013.9 1048.3,1014.5 1060.0,1014.9C1071.7,1015.3 1077.5,1015.8 1096.0,1016.2C1114.5,1016.6 1148.9,1016.7 1170.7,1017.2C1192.5,1017.7 1206.8,1017.8 1226.7,1019.0C1246.6,1020.2 1269.8,1022.8 1290.0,1024.5C1310.2,1026.2 1328.7,1028.2 1348.1,1029.3C1367.5,1030.4 1386.8,1031.5 1406.2,1031.2C1425.6,1030.9 1444.9,1028.0 1464.3,1027.4C1483.7,1026.8 1507.0,1027.7 1522.4,1027.4C1537.9,1027.1 1551.2,1025.7 1557.0,1025.4" fill="none" stroke="#000090" stroke-width="3.8" stroke-linejoin="round" stroke-linecap="round"/>
<path d="M119.0,1027.4C134.2,1027.1 189.2,1026.8 210.0,1025.4C230.8,1024.1 230.0,1024.5 243.5,1019.3C257.0,1014.1 278.8,1000.3 291.2,994.4C303.6,988.5 310.2,986.4 318.2,984.0C326.2,981.6 333.1,981.5 339.0,979.9C344.9,978.4 349.3,975.1 353.4,974.7C357.5,974.4 360.3,976.4 363.8,977.8C367.3,979.2 368.7,982.1 374.2,983.0C379.7,983.9 391.9,983.9 397.0,983.0C402.1,982.1 401.7,981.3 405.0,977.4C408.3,973.5 411.9,967.7 416.6,959.4C421.3,951.1 427.7,939.4 433.2,927.4C438.7,915.4 445.3,896.2 449.8,887.4C454.3,878.6 456.1,877.3 460.0,874.4C463.9,871.5 467.5,870.3 473.0,870.1C478.5,869.9 484.7,870.4 493.0,873.4C501.3,876.5 513.9,882.9 522.8,888.4C531.6,893.9 538.9,900.4 546.1,906.6C553.3,912.8 559.9,920.9 566.0,925.4C572.1,930.0 574.3,930.1 582.6,933.9C590.9,937.7 606.2,944.0 615.8,948.4C625.4,952.8 629.6,955.4 640.0,960.4C650.4,965.4 665.9,973.2 678.1,978.4C690.3,983.7 704.6,987.7 713.0,991.9C721.4,996.1 721.3,999.7 728.4,1003.4C735.5,1007.2 746.2,1012.2 755.6,1014.4C765.0,1016.7 774.9,1016.2 784.6,1016.9C794.3,1017.7 805.5,1018.4 813.6,1018.9C821.7,1019.4 827.3,1020.6 833.0,1020.0C838.7,1019.4 843.1,1017.2 848.0,1015.4C852.9,1013.6 857.8,1011.7 862.1,1009.4C866.4,1007.1 869.5,1004.7 873.8,1001.8C878.1,998.9 883.1,995.9 887.7,992.1C892.3,988.3 896.9,981.6 901.5,979.0C906.1,976.4 910.7,976.4 915.3,976.2C919.9,976.0 924.6,976.3 929.2,977.6C933.8,978.9 937.2,981.4 943.0,983.8C948.8,986.2 957.9,989.8 963.7,992.1C969.5,994.4 971.8,995.9 977.6,997.7C983.4,999.6 990.2,1001.8 998.3,1003.2C1006.4,1004.6 1015.7,1005.2 1026.0,1006.0C1036.3,1006.8 1048.3,1007.5 1060.0,1008.0C1071.7,1008.5 1080.7,1008.2 1096.0,1008.8C1111.3,1009.4 1133.3,1010.7 1152.0,1011.6C1170.7,1012.5 1189.3,1012.7 1208.0,1014.4C1226.7,1016.1 1250.3,1020.3 1264.0,1021.8C1277.7,1023.3 1280.8,1022.2 1290.0,1023.5C1299.2,1024.8 1309.3,1028.0 1319.0,1029.3C1328.7,1030.6 1335.2,1030.2 1348.1,1031.2C1361.0,1032.2 1383.6,1034.9 1396.5,1035.1C1409.4,1035.3 1415.9,1033.3 1425.6,1032.2C1435.3,1031.1 1444.9,1028.5 1454.6,1028.3C1464.3,1028.1 1469.1,1030.6 1483.6,1031.2C1498.1,1031.9 1529.5,1032.5 1541.7,1032.2C1553.9,1031.9 1554.5,1029.8 1557.0,1029.3" fill="none" stroke="#1A4C9E" stroke-width="3.8" stroke-linejoin="round" stroke-linecap="round"/>
<path d="M119.0,1025.4C134.2,1025.2 189.2,1025.2 210.0,1024.4C230.8,1023.6 231.0,1024.0 243.5,1020.4C256.0,1016.8 272.9,1006.7 285.0,1002.7C297.1,998.7 307.1,998.1 316.1,996.5C325.1,994.9 332.1,995.2 339.0,993.4C345.9,991.6 352.4,986.1 357.6,985.7C362.8,985.4 363.4,990.5 370.0,991.3C376.6,992.1 391.2,991.5 397.0,990.3C402.8,989.2 401.7,987.6 405.0,984.4C408.3,981.3 411.9,978.6 416.6,971.4C421.3,964.3 428.2,950.4 433.2,941.5C438.2,932.6 442.4,924.7 446.5,918.3C450.6,911.9 453.4,907.2 458.1,903.3C462.8,899.4 469.2,897.5 474.7,895.0C480.2,892.5 485.8,889.4 491.3,888.4C496.8,887.4 502.4,888.7 507.9,889.2C513.4,889.8 519.0,889.9 524.5,891.7C530.0,893.5 535.6,897.5 541.1,900.0C546.6,902.5 552.2,903.5 557.7,906.6C563.2,909.6 567.4,914.2 574.3,918.3C581.2,922.5 591.6,927.1 599.2,931.5C606.8,935.9 613.3,940.6 620.0,944.4C626.7,948.2 632.9,950.5 639.4,954.1C645.9,957.6 652.2,961.8 658.7,965.7C665.2,969.6 671.6,974.0 678.1,977.4C684.6,980.8 691.7,984.0 697.5,986.1C703.3,988.2 707.9,987.6 713.0,990.0C718.1,992.4 721.3,997.0 728.4,1000.6C735.5,1004.1 746.2,1009.0 755.6,1011.3C765.0,1013.6 774.9,1013.6 784.6,1014.2C794.3,1014.8 806.5,1015.4 813.6,1015.1C820.7,1014.8 822.4,1014.0 827.2,1012.2C832.1,1010.4 837.2,1007.9 842.7,1004.5C848.2,1001.1 855.3,995.3 860.0,992.1C864.7,988.9 867.4,989.1 871.1,985.2C874.8,981.3 878.7,973.7 882.1,968.6C885.5,963.5 888.6,959.9 891.8,954.8C895.0,949.7 898.5,941.9 901.5,938.2C904.5,934.5 907.0,933.9 909.8,932.6C912.6,931.3 914.9,930.1 918.1,930.6C921.3,931.1 925.1,933.0 929.2,935.4C933.4,937.8 938.4,941.6 943.0,945.1C947.6,948.6 952.2,952.3 956.8,956.2C961.4,960.1 966.5,964.9 970.6,968.6C974.8,972.3 977.1,975.5 981.7,978.3C986.3,981.1 993.2,983.6 998.3,985.2C1003.4,986.8 1006.3,986.6 1012.1,988.0C1017.9,989.4 1024.9,992.2 1032.9,993.5C1040.9,994.8 1052.6,995.2 1060.0,995.6C1067.4,996.0 1066.6,994.6 1077.3,995.7C1088.0,996.8 1108.4,1000.7 1124.0,1002.2C1139.6,1003.8 1156.7,1003.8 1170.7,1005.0C1184.7,1006.2 1195.5,1007.8 1208.0,1009.7C1220.5,1011.6 1228.4,1014.0 1245.4,1016.2C1262.4,1018.4 1292.9,1021.8 1310.0,1022.8C1327.1,1023.9 1332.1,1021.9 1348.1,1022.5C1364.1,1023.1 1390.1,1027.0 1406.2,1026.4C1422.3,1025.8 1423.9,1020.0 1444.9,1018.7C1465.9,1017.4 1516.0,1019.2 1532.1,1018.7C1548.2,1018.2 1537.5,1016.4 1541.7,1015.7C1545.9,1015.1 1554.5,1015.0 1557.0,1014.8" fill="none" stroke="#8DE600" stroke-width="3.8" stroke-linejoin="round" stroke-linecap="round"/>
<path d="M119.0,1025.4C134.2,1025.2 185.8,1025.4 210.0,1024.4C234.2,1023.4 251.7,1020.8 264.2,1019.3C276.7,1017.8 274.6,1016.4 285.0,1015.2C295.4,1014.0 316.8,1012.9 326.5,1012.0C336.2,1011.1 337.8,1011.2 343.0,1010.0C348.2,1008.8 353.4,1005.0 357.6,1004.8C361.8,1004.6 361.4,1008.2 368.0,1008.9C374.6,1009.6 388.9,1010.2 397.0,1008.9C405.1,1007.6 410.6,1005.3 416.6,1001.3C422.6,997.3 427.7,991.1 433.2,984.7C438.7,978.3 444.3,969.5 449.8,963.1C455.3,956.7 460.9,950.9 466.4,946.5C471.9,942.1 477.5,939.8 483.0,936.5C488.5,933.2 494.1,929.9 499.6,926.6C505.1,923.3 511.2,919.6 516.2,916.6C521.2,913.5 525.9,909.7 529.5,908.3C533.1,906.9 534.5,907.8 537.8,908.3C541.1,908.9 544.7,908.8 549.4,911.6C554.1,914.4 560.5,920.8 566.0,924.9C571.5,929.1 577.1,933.2 582.6,936.5C588.1,939.8 593.7,942.0 599.2,944.8C604.7,947.6 609.0,949.8 615.8,953.1C622.6,956.4 632.9,960.4 640.0,964.4C647.1,968.5 650.7,972.4 658.7,977.4C666.7,982.4 679.7,990.9 687.8,994.4C695.9,997.9 700.6,995.7 707.1,998.4C713.6,1001.2 718.4,1006.7 726.5,1010.9C734.6,1015.1 739.5,1021.7 755.6,1023.8C771.7,1026.0 810.4,1025.4 823.3,1023.8C836.2,1022.2 828.1,1018.7 833.0,1014.2C837.9,1009.7 847.9,1002.0 852.4,996.7C856.9,991.4 856.8,988.6 860.0,982.4C863.2,976.2 867.8,968.6 871.5,959.4C875.2,950.2 878.7,936.6 882.1,927.1C885.5,917.6 888.6,909.8 891.8,902.2C895.0,894.6 898.5,886.3 901.5,881.5C904.5,876.7 907.0,874.8 909.8,873.2C912.6,871.6 914.9,871.1 918.1,871.8C921.3,872.5 925.5,874.3 929.2,877.3C932.9,880.3 936.8,884.7 940.2,889.8C943.7,894.9 946.4,902.7 949.9,907.8C953.4,912.9 957.5,915.8 961.0,920.2C964.5,924.6 967.4,929.4 970.6,934.0C973.8,938.6 976.6,943.8 980.3,947.9C984.0,952.1 988.4,955.5 992.8,958.9C997.2,962.4 1001.1,965.8 1006.6,968.6C1012.1,971.4 1019.3,973.6 1026.0,975.5C1032.7,977.4 1038.2,978.7 1046.7,979.7C1055.2,980.7 1066.0,980.1 1077.3,981.7C1088.6,983.3 1100.7,986.8 1114.7,989.1C1128.7,991.4 1149.0,993.7 1161.4,995.7C1173.9,997.7 1181.6,999.6 1189.4,1001.3C1197.2,1003.0 1198.7,1004.5 1208.0,1006.0C1217.3,1007.5 1231.7,1008.3 1245.4,1010.6C1259.1,1012.9 1276.1,1017.4 1290.0,1019.6C1303.9,1021.7 1312.6,1022.4 1328.7,1023.5C1344.8,1024.6 1370.7,1025.8 1386.8,1026.4C1402.9,1027.1 1412.7,1027.6 1425.6,1027.4C1438.5,1027.2 1451.4,1025.6 1464.3,1025.4C1477.2,1025.2 1487.5,1026.4 1503.0,1026.4C1518.5,1026.4 1548.0,1025.6 1557.0,1025.4" fill="none" stroke="#FF9E1E" stroke-width="3.8" stroke-linejoin="round" stroke-linecap="round"/>
<path d="M119.0,1021.4C129.4,1021.4 170.1,1021.1 181.2,1021.4C192.3,1021.7 172.9,1023.1 185.4,1023.4C197.9,1023.7 240.7,1024.1 255.9,1023.4C271.1,1022.7 264.9,1020.2 276.7,1019.3C288.5,1018.5 314.8,1018.8 326.5,1018.3C338.2,1017.8 342.0,1017.1 347.2,1016.2C352.4,1015.3 354.8,1013.1 357.6,1013.1C360.4,1013.1 357.6,1015.9 363.8,1016.2C370.0,1016.6 388.9,1015.8 394.9,1015.2C400.9,1014.7 396.4,1013.6 400.0,1012.9C403.6,1012.2 411.1,1013.4 416.6,1011.2C422.1,1009.0 427.7,1004.6 433.2,999.6C438.7,994.6 444.3,986.6 449.8,981.3C455.3,976.1 460.9,971.7 466.4,968.1C471.9,964.5 477.5,963.7 483.0,959.8C488.5,955.9 494.1,949.8 499.6,944.8C505.1,939.8 511.2,934.1 516.2,929.9C521.2,925.8 525.4,922.4 529.5,919.9C533.6,917.4 537.8,916.0 541.1,914.9C544.4,913.8 545.2,911.6 549.4,913.3C553.5,915.0 560.5,920.8 566.0,924.9C571.5,929.1 577.1,934.6 582.6,938.2C588.1,941.8 593.0,943.5 599.2,946.5C605.4,949.5 613.3,953.2 620.0,956.1C626.7,959.0 632.9,960.3 639.4,963.8C645.9,967.4 650.6,972.2 658.7,977.4C666.8,982.6 679.7,991.4 687.8,994.8C695.9,998.2 700.6,995.1 707.1,997.7C713.6,1000.3 718.4,1006.9 726.5,1010.3C734.6,1013.7 745.9,1016.7 755.6,1018.0C765.3,1019.3 774.9,1018.1 784.6,1018.0C794.3,1017.9 806.5,1017.9 813.6,1017.1C820.7,1016.3 822.4,1016.0 827.2,1013.2C832.1,1010.5 837.9,1005.9 842.7,1000.6C847.6,995.3 853.4,986.1 856.3,981.2C859.2,976.3 858.0,976.9 860.0,971.4C862.0,965.9 865.1,957.7 868.0,948.4C870.9,939.2 874.5,926.8 877.5,915.9C880.5,905.0 883.4,892.1 886.3,882.9C889.1,873.7 892.1,867.4 894.6,860.7C897.1,854.0 898.7,847.5 901.5,842.7C904.3,837.9 908.2,833.9 911.2,831.7C914.2,829.5 916.7,829.4 919.5,829.6C922.3,829.8 924.6,830.4 927.8,833.1C931.0,835.7 935.8,840.9 938.8,845.5C941.8,850.1 943.5,855.6 945.8,860.7C948.1,865.8 950.0,871.8 952.7,875.9C955.5,880.1 959.3,881.7 962.3,885.6C965.3,889.5 967.6,894.4 970.6,899.5C973.6,904.6 977.1,911.9 980.3,916.1C983.5,920.2 987.0,921.7 990.0,924.4C993.0,927.2 994.6,929.6 998.3,932.6C1002.0,935.6 1007.5,939.8 1012.1,942.3C1016.7,944.9 1021.4,946.1 1026.0,947.9C1030.6,949.8 1033.4,952.1 1039.8,953.4C1046.2,954.7 1057.1,954.1 1064.3,955.5C1071.5,956.9 1074.5,959.8 1082.9,962.1C1091.3,964.4 1106.3,967.8 1114.7,969.5C1123.1,971.2 1125.6,970.6 1133.4,972.3C1141.2,974.0 1152.1,977.5 1161.4,979.8C1170.7,982.2 1183.2,984.5 1189.4,986.4C1195.6,988.3 1192.5,989.4 1198.7,991.0C1204.9,992.6 1215.8,993.7 1226.7,995.7C1237.6,997.7 1253.5,1001.0 1264.0,1003.2C1274.5,1005.4 1282.4,1007.6 1290.0,1009.0C1297.6,1010.4 1303.0,1010.6 1309.4,1011.9C1315.9,1013.2 1319.0,1015.4 1328.7,1016.7C1338.4,1018.0 1354.6,1018.5 1367.5,1019.6C1380.4,1020.7 1393.3,1023.0 1406.2,1023.5C1419.1,1024.0 1428.8,1022.7 1444.9,1022.5C1461.0,1022.3 1484.3,1022.6 1503.0,1022.5C1521.7,1022.4 1548.0,1021.7 1557.0,1021.6" fill="none" stroke="#FF0000" stroke-width="3.8" stroke-linejoin="round" stroke-linecap="round"/>
<line x1="344.4" y1="936.6" x2="344.8" y2="1049.1" stroke="#000" stroke-width="7.5" stroke-dasharray="7.5 9.5"/>
<polygon points="321.4,882.1 365.1,882.1 343.0,921.9" fill="#FF0000"/>
<line x1="477.7" y1="821.2" x2="477.4" y2="1033.9" stroke="#000" stroke-width="7.5" stroke-dasharray="7.5 9.5"/>
<polygon points="458.3,760.9 502.0,760.9 480.5,801.1" fill="#FF0000"/>
<line x1="549.9" y1="863.3" x2="553.5" y2="1026.7" stroke="#000" stroke-width="7.5" stroke-dasharray="7.5 9.5"/>
<polygon points="527.8,814.3 573.1,814.3 550.5,853.6" fill="#FF0000"/>
<line x1="918.0" y1="803.8" x2="917.4" y2="1051.8" stroke="#000" stroke-width="7.5" stroke-dasharray="7.5 9.5"/>
<polygon points="895.3,754.9 939.6,754.9 917.5,794.1" fill="#FF0000"/>
<line x1="1074.6" y1="904.8" x2="1074.2" y2="1032.1" stroke="#000" stroke-width="7.5" stroke-dasharray="7.5 9.5"/>
<polygon points="1051.6,857.2 1095.9,857.2 1073.7,895.1" fill="#FF0000"/>
<text x="275.0" y="828.7" class="pk" textLength="129.0" lengthAdjust="spacingAndGlyphs">2135</text>
<text x="405.0" y="704.2" class="pk" textLength="129.0" lengthAdjust="spacingAndGlyphs">2100</text>
<text x="500.4" y="784.5" class="pk" textLength="129.0" lengthAdjust="spacingAndGlyphs">2076</text>
<text x="858.6" y="729.1" class="pk" textLength="129.0" lengthAdjust="spacingAndGlyphs">1976</text>
<text x="1012.7" y="822.4" class="pk" textLength="129.0" lengthAdjust="spacingAndGlyphs">1934</text>
<path d="M267.5,231 V397.6 M255.8,231 H280.2 M255.8,397.6 H280.2" stroke="#000" stroke-width="5" fill="none"/>
<text x="160" y="336.6" class="b66" textLength="84" lengthAdjust="spacingAndGlyphs">0.1</text>
<rect x="1108.5" y="48.5" width="426" height="507" fill="#fff" stroke="#5a5a5a" stroke-width="3"/>
<line x1="1116" y1="95.0" x2="1264" y2="95.0" stroke="#3F0F86" stroke-width="4"/>
<text x="1280.5" y="116.7" class="leg">2 min</text>
<line x1="1116" y1="178.2" x2="1264" y2="178.2" stroke="#000090" stroke-width="4"/>
<text x="1280.5" y="199.9" class="leg">5 min</text>
<line x1="1116" y1="261.4" x2="1264" y2="261.4" stroke="#1A4C9E" stroke-width="4"/>
<text x="1280.5" y="283.1" class="leg">10 min</text>
<line x1="1116" y1="344.5" x2="1264" y2="344.5" stroke="#8DE600" stroke-width="4"/>
<text x="1280.5" y="366.2" class="leg">20 min</text>
<line x1="1116" y1="427.7" x2="1264" y2="427.7" stroke="#FF9E1E" stroke-width="4"/>
<text x="1280.5" y="449.4" class="leg">60 min</text>
<line x1="1116" y1="510.9" x2="1264" y2="510.9" stroke="#FF0000" stroke-width="4"/>
<text x="1280.5" y="532.6" class="leg">120 min</text>
<rect x="119.0" y="23.9" width="1442.5" height="1167.9" fill="none" stroke="#000" stroke-width="8"/>
<line x1="119.0" y1="1191.8" x2="119.0" y2="1213.6" stroke="#000" stroke-width="7.5"/>
<text x="119.0" y="1281" class="tick" text-anchor="middle" textLength="146.0" lengthAdjust="spacingAndGlyphs">2200</text>
<line x1="479.6" y1="1191.8" x2="479.6" y2="1213.6" stroke="#000" stroke-width="7.5"/>
<text x="479.6" y="1281" class="tick" text-anchor="middle" textLength="146.0" lengthAdjust="spacingAndGlyphs">2100</text>
<line x1="840.2" y1="1191.8" x2="840.2" y2="1213.6" stroke="#000" stroke-width="7.5"/>
<text x="840.2" y="1281" class="tick" text-anchor="middle" textLength="146.0" lengthAdjust="spacingAndGlyphs">2000</text>
<line x1="1200.9" y1="1191.8" x2="1200.9" y2="1213.6" stroke="#000" stroke-width="7.5"/>
<text x="1200.9" y="1281" class="tick" text-anchor="middle" textLength="146.0" lengthAdjust="spacingAndGlyphs">1900</text>
<line x1="1561.5" y1="1191.8" x2="1561.5" y2="1213.6" stroke="#000" stroke-width="7.5"/>
<text x="1561.5" y="1281" class="tick" text-anchor="middle" textLength="146.0" lengthAdjust="spacingAndGlyphs">1800</text>
<line x1="299.3" y1="1191.8" x2="299.3" y2="1202" stroke="#000" stroke-width="7.5"/>
<line x1="659.9" y1="1191.8" x2="659.9" y2="1202" stroke="#000" stroke-width="7.5"/>
<line x1="1020.6" y1="1191.8" x2="1020.6" y2="1202" stroke="#000" stroke-width="7.5"/>
<line x1="1381.2" y1="1191.8" x2="1381.2" y2="1202" stroke="#000" stroke-width="7.5"/>
<text x="537.5" y="1399.7" class="ax" textLength="607.5" lengthAdjust="spacingAndGlyphs">Wavenumber (cm<tspan dy="-28" font-size="46">-1</tspan><tspan dy="28">)</tspan></text>
<text transform="translate(67.8,608) rotate(-90)" class="ay" text-anchor="middle" textLength="447.5" lengthAdjust="spacingAndGlyphs">Intensity (a.u.)</text>
<text x="137.5" y="107" class="pl" textLength="114.0" lengthAdjust="spacingAndGlyphs">(b)</text>
<text y="112.5" class="ttl"><tspan x="297">Pd/Al</tspan><tspan font-size="44" dy="17">2</tspan><tspan dy="-17">O</tspan><tspan font-size="44" dy="17">3</tspan></text>
</g>
</svg></body></html>
